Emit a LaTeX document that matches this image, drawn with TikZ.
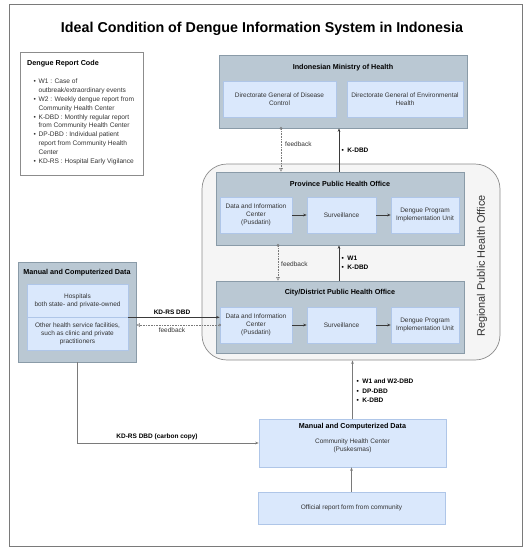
\documentclass[tikz,border=0pt]{standalone}
\usepackage{fontspec}
\setmainfont{Liberation Sans}
\usetikzlibrary{arrows.meta,calc}
\definecolor{inB}{HTML}{DAE8FC}
\definecolor{inD}{HTML}{AFC6E8}
\definecolor{outF}{HTML}{BAC8D3}
\definecolor{outD}{HTML}{8A9BA8}
\definecolor{regF}{HTML}{F5F5F5}
\definecolor{regD}{HTML}{8C8C8C}
\definecolor{txt}{HTML}{333333}
\definecolor{ln}{HTML}{3A3A3A}
\definecolor{lnG}{HTML}{7A7A7A}
\newcommand\fsz[2]{\fontsize{#1}{#2}\selectfont}
\begin{document}
\begin{tikzpicture}[x=1pt,y=-1pt,
  innerbox/.style={draw=inD,fill=inB,line width=0.6pt,align=center,font=\fsz{6.5}{8},text=txt,inner sep=0pt},
  outerbox/.style={draw=outD,fill=outF,line width=0.7pt,inner sep=0pt},
  boxtitle/.style={font=\bfseries\fsz{7.2}{9},text=black,inner sep=0pt},
  plain/.style={font=\fsz{6.5}{8},text=txt,inner sep=0pt},
  lab/.style={font=\bfseries\fsz{6.5}{9.5},text=black,inner sep=0pt,align=left},
  arr/.style={draw=ln,line width=0.6pt,-{Stealth[length=3.5pt,width=2.6pt]}},
  arrG/.style={draw=lnG,line width=0.7pt,-{Stealth[length=3.5pt,width=2.6pt]}},
  fb/.style={draw=lnG,line width=0.6pt,densely dotted,{Circle[open,length=2.6pt,width=2.6pt,line width=0.5pt,sep=-1.3pt]}-{Triangle[open,length=3.5pt,width=3.5pt,line width=0.5pt]}}
]
\useasboundingbox (0,0) rectangle (529,550);
\node[draw=lnG,line width=0.8pt,minimum width=513pt,minimum height=542pt,inner sep=0pt] (frame) at (265.5,275) {};
\node[font=\bfseries\fsz{14.3}{16},inner sep=0pt] (title) at (262,29) {Ideal Condition of Dengue Information System in Indonesia};

% legend
\node[draw=regD,fill=white,line width=0.6pt,minimum width=123pt,minimum height=123pt,inner sep=0pt] (legend) at (81.5,113.5) {};
\node[boxtitle,anchor=west] (legT) at (27,64) {Dengue Report Code};
\node[plain,anchor=north west,align=left,font=\fsz{6.6}{8.9}] (legL) at (33.5,78.5) {%
\textbullet\hspace{2.6pt}W1 : Case of\\
\hphantom{\textbullet\hspace{2.6pt}}outbreak/extraordinary events\\
\textbullet\hspace{2.6pt}W2 : Weekly dengue report from\\
\hphantom{\textbullet\hspace{2.6pt}}Community Health Center\\
\textbullet\hspace{2.6pt}K-DBD : Monthly regular report\\
\hphantom{\textbullet\hspace{2.6pt}}from Community Health Center\\
\textbullet\hspace{2.6pt}DP-DBD : Individual patient\\
\hphantom{\textbullet\hspace{2.6pt}}report from Community Health\\
\hphantom{\textbullet\hspace{2.6pt}}Center\\
\textbullet\hspace{2.6pt}KD-RS : Hospital Early Vigilance};

% ministry
\node[outerbox,minimum width=248pt,minimum height=73pt] (moh) at (343,91.5) {};
\node[boxtitle] (mohT) at (343,68) {Indonesian Ministry of Health};
\node[innerbox,minimum width=113pt,minimum height=36pt] (dgdc) at (279.5,99) {Directorate General of Disease\\Control};
\node[innerbox,minimum width=116pt,minimum height=36pt] (dgeh) at (405,99) {Directorate General of Environmental\\Health};

% regional
\node[draw=regD,fill=regF,line width=0.7pt,rounded corners=25pt,minimum width=298pt,minimum height=196pt,inner sep=0pt] (reg) at (351,262) {};
\node[rotate=90,font=\fsz{10.9}{12},text=txt,inner sep=0pt] (regT) at (482,266) {Regional Public Health Office};

% province
\node[outerbox,minimum width=248pt,minimum height=73pt] (prov) at (340,208.5) {};
\node[boxtitle] (provT) at (340,184) {Province Public Health Office};
\node[innerbox,minimum width=72pt,minimum height=36pt] (dataP) at (256,215) {Data and Information\\Center\\(Pusdatin)};
\node[innerbox,minimum width=69pt,minimum height=36pt] (survP) at (341.5,215) {Surveillance};
\node[innerbox,minimum width=68pt,minimum height=36pt] (dengP) at (425,215) {Dengue Program\\Implementation Unit};

% city
\node[outerbox,minimum width=248pt,minimum height=72pt] (city) at (340,317) {};
\node[boxtitle] (cityT) at (340,293) {City/District Public Health Office};
\node[innerbox,minimum width=72pt,minimum height=36pt] (dataC) at (256,325) {Data and Information\\Center\\(Pusdatin)};
\node[innerbox,minimum width=69pt,minimum height=36pt] (survC) at (341.5,325) {Surveillance};
\node[innerbox,minimum width=68pt,minimum height=36pt] (dengC) at (425,325) {Dengue Program\\Implementation Unit};

% left data
\node[outerbox,minimum width=118pt,minimum height=100pt] (left) at (77,312) {};
\node[boxtitle] (leftT) at (77,273) {Manual and Computerized Data};
\node[innerbox,minimum width=101pt,minimum height=33pt] (hosp) at (77.5,300.5) {Hospitals\\both state- and private-owned};
\node[innerbox,minimum width=101pt,minimum height=33pt] (other) at (77.5,333.5) {Other health service facilities,\\such as clinic and private\\practitioners};

% community
\node[innerbox,minimum width=187pt,minimum height=48pt] (comm) at (352.5,443) {};
\node[boxtitle] (commT) at (352.5,427) {Manual and Computerized Data};
\node[plain,align=center] (commL) at (352.5,446) {Community Health Center\\(Puskesmas)};
\node[innerbox,minimum width=187pt,minimum height=32pt] (bot) at (351.5,508) {Official report form from community};

% helper coordinates
\coordinate (fbA) at (281,0);
\coordinate (fbB) at (278,0);
\coordinate (kx) at (339,0);

% connectors
\draw[arr] (dataP) -- (survP);
\draw[arr] (survP) -- (dengP);
\draw[arr] (dataC) -- (survC);
\draw[arr] (survC) -- (dengC);
\draw[fb] (moh.south -| fbA) -- (prov.north -| fbA);
\draw[arr] (prov.north -| kx) -- (moh.south -| kx);
\draw[fb] (prov.south -| fbB) -- (city.north -| fbB);
\draw[arr] (city.north -| kx) -- (prov.south -| kx);
\draw[arr] (hosp.south east) -- (hosp.south east -| dataC.west);
\draw[fb] (dataC.west) -- (dataC.west -| left.east);
\draw[arrG] (left.south) |- (comm.west);
\draw[arrG] (comm.north) -- (comm.north |- reg.south);
\draw[arrG] (bot.north) -- (comm.south -| bot.north);

% labels
\node[plain,anchor=west] (fbL1) at (285,144) {feedback};
\node[plain,anchor=west] (fbL2) at (281,264) {feedback};
\node[plain] (fbL3) at (172,330) {feedback};
\node[lab,anchor=west] (kL1) at (341.5,150) {\textbullet\hspace{3.5pt}K-DBD};
\node[lab,anchor=west] (kL2) at (341.5,263) {\textbullet\hspace{3.5pt}W1\\\textbullet\hspace{3.5pt}K-DBD};
\node[lab] (kdrsL) at (172,312) {KD-RS DBD};
\node[lab] (ccL) at (157,437) {KD-RS DBD (carbon copy)};
\node[lab,anchor=west] (commUp) at (356.5,391) {\textbullet\hspace{3.5pt}W1 and W2-DBD\\\textbullet\hspace{3.5pt}DP-DBD\\\textbullet\hspace{3.5pt}K-DBD};
\end{tikzpicture}
\end{document}
